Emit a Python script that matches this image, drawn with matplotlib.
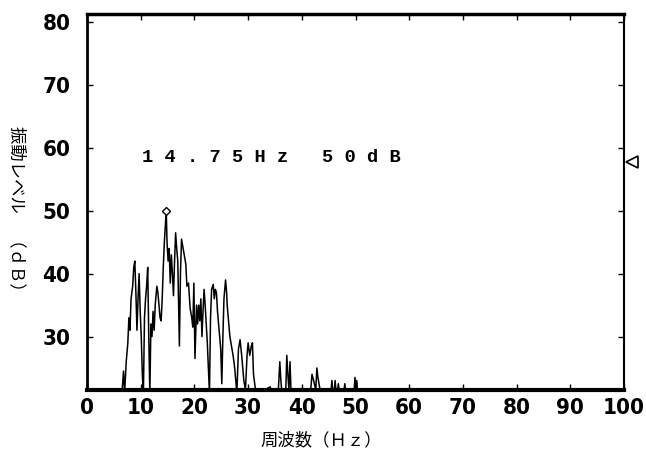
import matplotlib
matplotlib.use("Agg")
import matplotlib.pyplot as plt

plt.rcParams['font.family'] = ['Noto Sans CJK JP', 'DejaVu Sans']

# spectrum read at each line of the analyser trace (Hz, dB)
freq = [6.5, 6.8, 7.0, 7.3, 7.6, 7.8, 8.0, 8.2, 8.5, 8.7, 8.9, 9.1, 9.3, 9.5,
        9.7, 9.9, 10.1, 10.3, 10.5, 10.7, 10.9, 11.1, 11.3, 11.5, 11.7, 11.9,
        12.1, 12.3, 12.5, 12.7, 13.0, 13.2, 13.4, 13.6, 13.8, 14.0, 14.2, 14.4,
        14.75, 14.9, 15.1, 15.3, 15.5, 15.7, 15.9, 16.1, 16.3, 16.5, 16.7, 16.9,
        17.2, 17.4, 17.6, 17.9, 18.1, 18.4, 18.6, 18.9, 19.2, 19.5, 19.7, 19.9,
        20.1, 20.4, 20.6, 20.8, 21.0, 21.2, 21.4, 21.6, 21.8, 22.0, 22.2, 22.4,
        22.6, 22.8, 23.0, 23.2, 23.5, 23.7, 23.9, 24.1, 24.3, 24.5, 24.7, 24.9,
        25.1, 25.3, 25.5, 25.8, 26.0, 26.1, 26.4, 26.6, 26.9, 27.2, 27.5, 27.9,
        28.2, 28.5, 28.8, 29.0, 29.2, 29.5, 29.8, 30.0, 30.3, 30.6, 30.8, 31.0,
        31.3, 31.6, 32.0, 34.1, 34.4, 35.6, 35.9, 36.1, 36.3, 37.0, 37.2, 37.4,
        37.6, 37.8, 38.0, 41.6, 41.9, 42.2, 42.6, 42.8, 43.0, 43.3, 43.6, 45.4,
        45.6, 45.8, 46.0, 46.2, 46.4, 46.6, 46.8, 47.0, 47.8, 48.0, 48.2, 49.7,
        49.9, 50.1, 50.2, 50.4, 100.0]
level = [21, 24.5, 21, 26, 29, 33, 31, 36, 38, 41, 42, 37, 31, 36,
         40, 34, 30, 24, 21, 33, 36, 38, 41, 30, 21, 32,
         30, 34, 31, 35, 38, 37, 35, 33, 32.5, 36, 41, 45,
         50, 45, 42, 44, 38.5, 43, 40, 36.5, 42, 46.5, 44, 42,
         28.5, 40, 45.5, 44, 43, 41.5, 38, 38.5, 34.5, 33, 31.5, 38.5,
         26.5, 35, 32, 35, 32.5, 36, 30, 34, 37.5, 35, 32, 29,
         25, 21, 33, 37.5, 38.3, 36, 37.5, 37, 34, 32, 30, 28,
         22.5, 30, 36, 39, 37, 35, 32, 30, 28.5, 27, 25, 21,
         28, 29.5, 27, 25, 23, 21.5, 27, 29, 27, 28.5, 29, 24,
         22, 21, 21, 22, 21, 21, 26, 23, 21, 21, 27, 24,
         21.5, 26, 21, 21, 24, 23, 21.5, 25, 23.5, 22, 21, 21,
         23, 21, 21, 23, 21, 21, 22.5, 21, 21, 22.5, 21, 21,
         23.5, 21.5, 23, 21, 21]

peak_freq = 14.75
peak_level = 50
ref_level = 57.8

xticks = [0, 10, 20, 30, 40, 50, 60, 70, 80, 90, 100]
yticks = [30, 40, 50, 60, 70, 80]

fig = plt.figure(figsize=(6.46, 4.63), dpi=100)
ax = fig.add_axes([0.1347, 0.1577, 0.8313, 0.8121])

ax.plot(freq, level, color='black', linewidth=1.1)
ax.plot([peak_freq], [peak_level], marker='D', markersize=4, mfc='white',
        mec='black', mew=1)
ax.plot([101.5], [ref_level], marker='<', markersize=8, mfc='white',
        mec='black', mew=1.2, clip_on=False)

ax.text(10.2, ref_level, "1 4 . 7 5 H z   5 0 d B", family='Liberation Mono',
        fontsize=13.5, fontweight='bold', va='baseline', ha='left')

ax.set_xlim(0, 100)
ax.set_ylim(21.5, 81.3)
ax.set_xticks(xticks)
ax.set_yticks(yticks)

tick_font = {'family': 'DejaVu Sans', 'weight': 'bold', 'stretch': 'condensed',
             'size': 16}
ax.set_xticklabels([str(t) for t in xticks], fontdict=tick_font)
ax.set_yticklabels([str(t) for t in yticks], fontdict=tick_font)
ax.tick_params(direction='in', length=4, width=1, top=True, right=True)
ax.tick_params(axis='y', pad=12)
ax.tick_params(axis='x', pad=6)

ax.spines['left'].set_linewidth(2)
ax.spines['bottom'].set_linewidth(3)
ax.spines['top'].set_linewidth(2.5)
ax.spines['right'].set_linewidth(1.5)

fig.text(0.026, 0.54, "振動レベル　（ｄＢ）", rotation=-90, fontsize=12.5,
         ha='center', va='center')
fig.text(0.498, 0.05, "周波数（Ｈｚ）", fontsize=12.5, ha='center', va='center')

fig.savefig('out.png', dpi=100, facecolor='white')
